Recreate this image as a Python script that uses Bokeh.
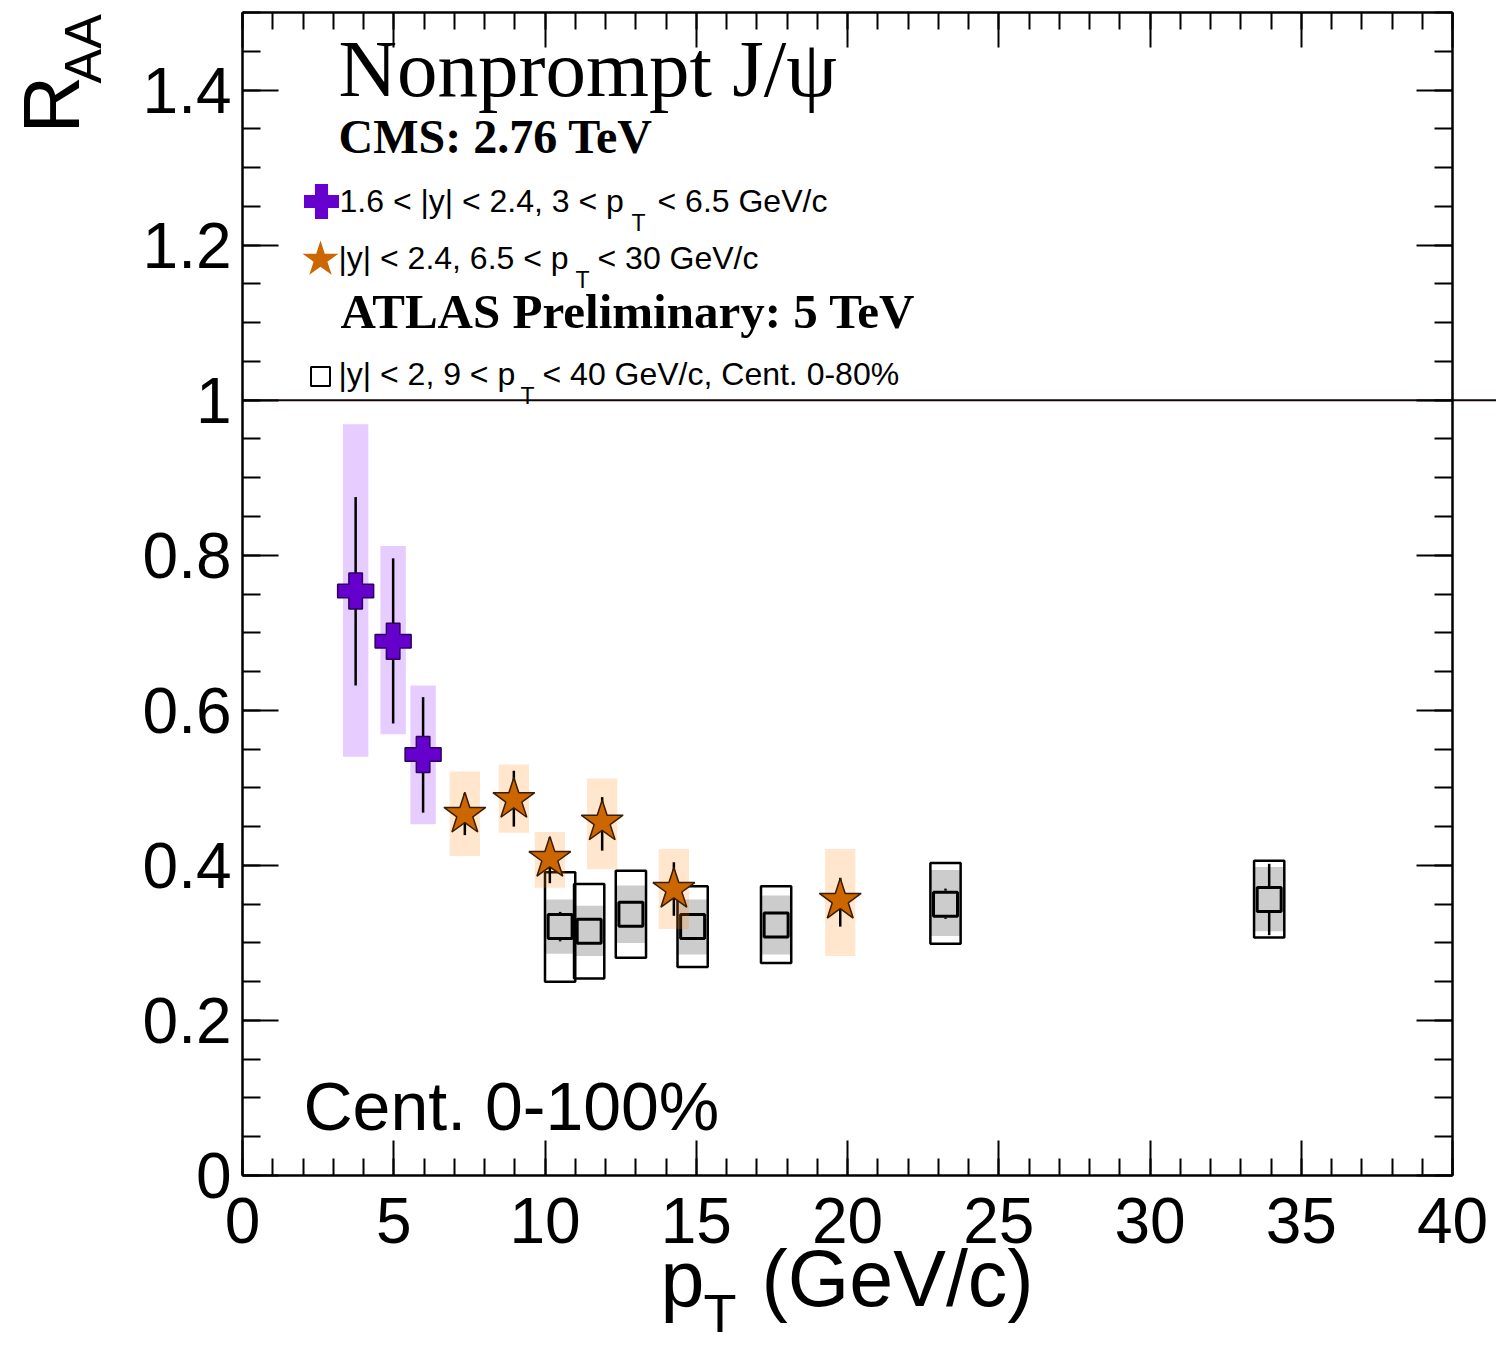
import numpy as np
from bokeh.plotting import figure
from bokeh.models import Range1d, FixedTicker, Label, LinearAxis
from bokeh.embed import file_html
from bokeh.resources import INLINE

# ---------------------------------------------------------------- data
# CMS 2.76 TeV, 1.6 < |y| < 2.4, 3 < pT < 6.5 GeV/c
cms_fwd_pt = [3.74, 4.98, 5.97]
cms_fwd_raa = [0.754, 0.689, 0.543]
cms_fwd_stat_lo = [0.632, 0.583, 0.468]
cms_fwd_stat_hi = [0.875, 0.796, 0.617]
cms_fwd_syst_lo = [0.540, 0.569, 0.453]
cms_fwd_syst_hi = [0.969, 0.812, 0.632]

# CMS 2.76 TeV, |y| < 2.4, 6.5 < pT < 30 GeV/c
cms_mid_pt = [7.35, 8.97, 10.16, 11.89, 14.26, 19.76]
cms_mid_raa = [0.466, 0.485, 0.409, 0.456, 0.369, 0.355]
cms_mid_stat_lo = [0.439, 0.450, 0.377, 0.419, 0.335, 0.321]
cms_mid_stat_hi = [0.493, 0.522, 0.436, 0.488, 0.404, 0.384]
cms_mid_syst_lo = [0.412, 0.442, 0.371, 0.395, 0.318, 0.283]
cms_mid_syst_hi = [0.521, 0.530, 0.443, 0.512, 0.421, 0.421]

# ATLAS Preliminary 5 TeV, |y| < 2, 9 < pT < 40 GeV/c, Cent. 0-80%
atlas_pt = [10.50, 11.46, 12.84, 14.88, 17.64, 23.24, 33.94]
atlas_raa = [0.321, 0.315, 0.337, 0.321, 0.323, 0.350, 0.356]
atlas_stat_lo = [0.302, 0.303, 0.325, 0.309, 0.311, 0.331, 0.310]
atlas_stat_hi = [0.340, 0.327, 0.349, 0.333, 0.335, 0.370, 0.402]
atlas_band_lo = [0.286, 0.283, 0.300, 0.285, 0.285, 0.309, 0.315]
atlas_band_hi = [0.356, 0.348, 0.374, 0.356, 0.361, 0.394, 0.398]
atlas_box_lo = [0.250, 0.254, 0.281, 0.269, 0.274, 0.299, 0.307]
atlas_box_hi = [0.391, 0.376, 0.393, 0.373, 0.373, 0.403, 0.406]

x_major_ticks = [0, 5, 10, 15, 20, 25, 30, 35, 40]
x_tick_labels = ["0", "5", "10", "15", "20", "25", "30", "35", "40"]
x_minor_ticks = list(range(0, 41))
y_major_ticks = [0.0, 0.2, 0.4, 0.6, 0.8, 1.0, 1.2, 1.4]
y_tick_labels = ["0", "0.2", "0.4", "0.6", "0.8", "1", "1.2", "1.4"]
y_minor_ticks = [round(0.05 * i, 2) for i in range(0, 31)]

X_MIN, X_MAX = 0.0, 40.0
Y_MIN, Y_MAX = 0.0, 1.5

# ---------------------------------------------------------------- layout
# The plotting frame covers the whole canvas; the axes are pinned at the
# data edges with fixed_location so titles outside the axes stay visible.
W, H = 1496, 1347
AX_L, AX_T, AX_B = 242, 12, 1175          # pixel position of the axis box
XPX = 30.25                               # pixels per GeV/c
YPX = (AX_B - AX_T) / (Y_MAX - Y_MIN)     # pixels per unit of R_AA


def dx(px):
    return (px - AX_L) / XPX


def dy(py):
    return (AX_B - py) / YPX


SANS = "Liberation Sans"
SERIF = "Liberation Serif"

p = figure(width=W, height=H, output_backend="svg", toolbar_location=None,
           x_range=Range1d(dx(0), dx(W)), y_range=Range1d(dy(H), dy(0)),
           x_axis_location=None, y_axis_location=None, min_border=0)
p.title.visible = False
p.outline_line_color = None
p.grid.visible = False
p.background_fill_color = "white"
p.border_fill_color = "white"


def make_axis(side, loc, ticks, minor, labels, tick_in, minor_in, bounds,
              show_labels, standoff):
    ax = LinearAxis(fixed_location=loc, bounds=bounds,
                    ticker=FixedTicker(ticks=ticks, minor_ticks=minor))
    ax.axis_line_color = "black"
    ax.axis_line_width = 2.5
    ax.major_tick_in, ax.major_tick_out = tick_in, 0
    ax.minor_tick_in, ax.minor_tick_out = minor_in, 0
    ax.major_tick_line_width = 2
    ax.minor_tick_line_width = 2
    ax.major_tick_line_color = "black"
    ax.minor_tick_line_color = "black"
    if show_labels:
        ax.major_label_overrides = {t: s for t, s in zip(ticks, labels)}
        ax.major_label_text_font = SANS
        ax.major_label_text_font_size = "64px"
        ax.major_label_text_color = "black"
        ax.major_label_standoff = standoff
    else:
        ax.major_label_overrides = {t: "" for t in ticks}
        ax.major_label_text_font_size = "1px"
    p.add_layout(ax, side)
    return ax


make_axis("below", Y_MIN, x_major_ticks, x_minor_ticks, x_tick_labels, 35, 17,
          (X_MIN, X_MAX), True, 22)
make_axis("above", Y_MAX, x_major_ticks, x_minor_ticks, x_tick_labels, 35, 17,
          (X_MIN, X_MAX), False, 0)
make_axis("left", X_MIN, y_major_ticks, y_minor_ticks, y_tick_labels, 36, 18,
          (Y_MIN, Y_MAX), True, 11)
make_axis("right", X_MAX, y_major_ticks, y_minor_ticks, y_tick_labels, 36, 18,
          (Y_MIN, Y_MAX), False, 0)

# unity reference line, running out to the page edge
p.segment(x0=[X_MIN], y0=[1.0], x1=[dx(W)], y1=[1.0], line_color="#140404", line_width=2)

# ---------------------------------------------------------------- ATLAS
a_pt = np.array(atlas_pt)
a_raa = np.array(atlas_raa)
A_HALF = 0.5
p.quad(left=a_pt - A_HALF, right=a_pt + A_HALF, bottom=atlas_band_lo, top=atlas_band_hi,
       fill_color="#CCCCCC", line_color=None)
p.quad(left=a_pt - A_HALF, right=a_pt + A_HALF, bottom=atlas_box_lo, top=atlas_box_hi,
       fill_color=None, line_color="black", line_width=2.5)
A_MARKER = 24
gap = (A_MARKER / 2 + 1.5) / YPX
up0 = a_raa + gap
up1 = np.maximum(np.array(atlas_stat_hi), up0)
dn0 = a_raa - gap
dn1 = np.minimum(np.array(atlas_stat_lo), dn0)
p.segment(x0=a_pt, y0=up0, x1=a_pt, y1=up1, line_color="black", line_width=2.5)
p.segment(x0=a_pt, y0=dn0, x1=a_pt, y1=dn1, line_color="black", line_width=2.5)
p.scatter(a_pt, a_raa, marker="square", size=A_MARKER, fill_color=None,
          line_color="black", line_width=3)

# ---------------------------------------------------------------- CMS
f_pt = np.array(cms_fwd_pt)
m_pt = np.array(cms_mid_pt)
F_HALF, M_HALF = 0.42, 0.5
p.quad(left=f_pt - F_HALF, right=f_pt + F_HALF, bottom=cms_fwd_syst_lo, top=cms_fwd_syst_hi,
       fill_color="#8000FF", fill_alpha=0.2, line_color=None)
p.quad(left=m_pt - M_HALF, right=m_pt + M_HALF, bottom=cms_mid_syst_lo, top=cms_mid_syst_hi,
       fill_color="#FF8000", fill_alpha=0.2, line_color=None)
p.segment(x0=f_pt, y0=cms_fwd_stat_lo, x1=f_pt, y1=cms_fwd_stat_hi,
          line_color="black", line_width=2.5)
p.segment(x0=m_pt, y0=cms_mid_stat_lo, x1=m_pt, y1=cms_mid_stat_hi,
          line_color="black", line_width=2.5)
p.scatter(f_pt, cms_fwd_raa, marker="plus", size=36, fill_color="#6600CC",
          line_color="#2E0060", line_width=1.5)
p.scatter(m_pt, cms_mid_raa, marker="star", size=44, fill_color="#CC6600",
          line_color="#3A1C00", line_width=1.5)

# ---------------------------------------------------------------- legend
p.scatter([dx(321)], [dy(201)], marker="plus", size=35, fill_color="#6600CC", line_color=None)
p.scatter([dx(320)], [dy(259)], marker="star", size=38, fill_color="#CC6600", line_color=None)
p.scatter([dx(320)], [dy(376)], marker="square", size=19, fill_color=None,
          line_color="black", line_width=2)

# distance from the label anchor to the glyph baseline, in em
BASE_SHIFT = 0.345


def label(text, px, base, size, font=SANS, style="normal"):
    p.add_layout(Label(x=dx(px), y=dy(base - BASE_SHIFT * size), text=text,
                       text_font=font, text_font_size=f"{size}px",
                       text_font_style=style, text_color="black",
                       text_align="left", text_baseline="alphabetic"))


def vlabel(text, base_x, start_y, size):
    p.add_layout(Label(x=dx(base_x - BASE_SHIFT * size), y=dy(start_y), text=text,
                       text_font=SANS, text_font_size=f"{size}px",
                       text_color="black", text_align="left",
                       text_baseline="alphabetic", angle=np.pi / 2))


label("Nonprompt J/\u03c8", 338, 96, 81, font=SERIF)
label("CMS: 2.76 TeV", 338, 153, 48, font=SERIF, style="bold")
label("ATLAS Preliminary: 5 TeV", 340, 328, 49, font=SERIF, style="bold")

LEG = 32
SUB = 23
label("1.6 < |y| < 2.4, 3 < p", 339, 212, LEG)
label("T", 631, 230, SUB)
label("< 6.5 GeV/c", 657, 212, LEG)

label("|y| < 2.4, 6.5 < p", 338, 269, LEG)
label("T", 575, 287, SUB)
label("< 30 GeV/c", 597, 269, LEG)

label("|y| < 2, 9 < p", 338, 385, LEG)
label("T", 520, 403, SUB)
label("< 40 GeV/c, Cent. 0-80%", 542, 385, LEG)

label("Cent. 0-100%", 303, 1129, 68)

# axis titles
label("p", 660, 1305, 79)
label("T", 703, 1331, 54)
label("(GeV/c)", 761, 1305, 79)
vlabel("R", 79, 133, 80)
vlabel("AA", 100, 83, 52)

open("out.html", "w").write(file_html(p, INLINE))
